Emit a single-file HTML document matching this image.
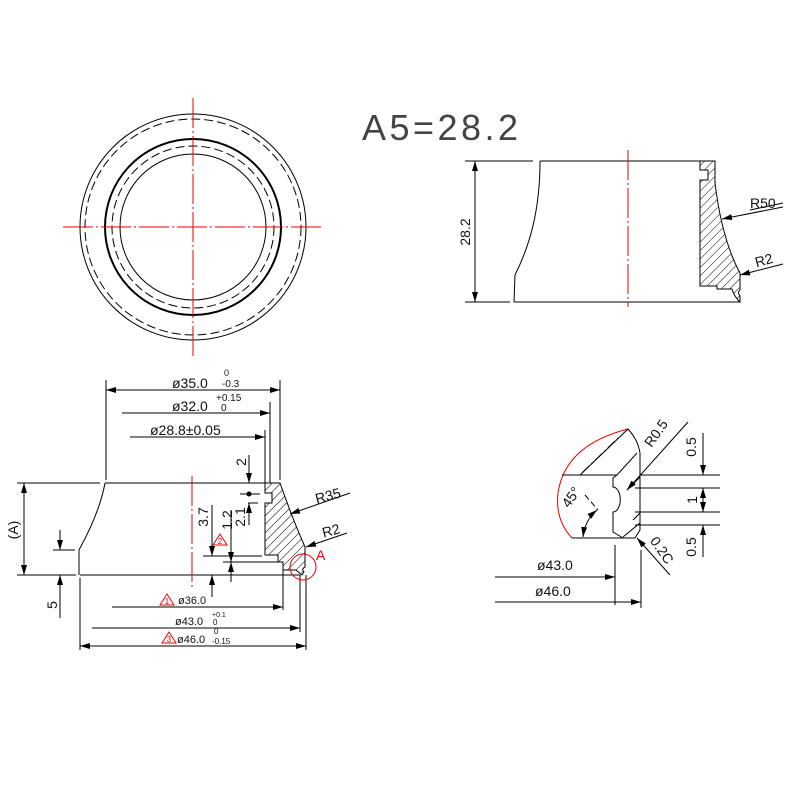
<!DOCTYPE html>
<html><head><meta charset="utf-8"><style>
html,body{margin:0;padding:0;background:#fff}
svg{display:block}
text{font-family:"Liberation Sans",sans-serif;fill:#111}
</style></head><body>
<svg width="800" height="800" viewBox="0 0 800 800" xmlns="http://www.w3.org/2000/svg">
<defs>
<marker id="ar" viewBox="0 0 10 6" refX="10" refY="3" markerWidth="10" markerHeight="6" orient="auto-start-reverse" markerUnits="userSpaceOnUse"><path d="M0,0 L10,3 L0,6 z" fill="#000"/></marker>
<pattern id="h" width="6" height="6" patternUnits="userSpaceOnUse" patternTransform="rotate(45)"><line x1="0" y1="0" x2="0" y2="6" stroke="#000" stroke-width="1"/></pattern>
</defs>
<g fill="none" stroke="#000" stroke-width="1">
<circle cx="193" cy="227" r="113"/>
<circle cx="193" cy="227" r="108" stroke-dasharray="9,4"/>
<circle cx="193" cy="227" r="88" stroke-width="2"/>
<circle cx="193" cy="227" r="81" stroke-dasharray="9,4"/>
<circle cx="193" cy="227" r="73"/>
</g>
<g stroke="#e00" stroke-width="1" stroke-dasharray="30,3,2,3">
<line x1="193" y1="98" x2="193" y2="358"/>
<line x1="63" y1="227" x2="323" y2="227"/>
</g>
<text x="362" y="140" font-size="36" textLength="156" fill="#444" style="fill:#444">A5=28.2</text>

<g fill="none" stroke="#000" stroke-width="1">
<line x1="465" y1="161" x2="533" y2="161"/>
<line x1="540" y1="161" x2="715" y2="161"/>
<line x1="465" y1="302" x2="510" y2="302"/>
<line x1="514" y1="302" x2="740" y2="302"/>
<path d="M540,161 C540,210 530,245 515,275 L514,302"/>
<line x1="475" y1="161" x2="475" y2="302" marker-start="url(#ar)" marker-end="url(#ar)"/>
<path d="M700,161 L715,161 L715,183 Q722,240 740,273 L740,290 Q737,292 740,296 L740,302 L738,300 L735,296 L733,292 L732,289 L717,289 L717,286 L700,286 L700,180 L708,180 L708,170 L700,170 Z" fill="url(#h)"/>
<line x1="750" y1="210" x2="783" y2="203"/>
<line x1="783" y1="207" x2="722" y2="219" marker-end="url(#ar)"/>
<line x1="783" y1="264" x2="740" y2="275" marker-end="url(#ar)"/>
</g>
<line x1="628" y1="150" x2="628" y2="307" stroke="#e00" stroke-dasharray="30,3,2,3"/>
<text font-size="14" transform="translate(470,232) rotate(-90)" text-anchor="middle">28.2</text>
<text x="750" y="208" font-size="14">R50</text>
<text x="755" y="264" font-size="14" transform="rotate(-15 768 260)">R2</text>

<g fill="none" stroke="#000" stroke-width="1">
<line x1="17" y1="483" x2="100" y2="483"/>
<line x1="105" y1="483" x2="280" y2="483"/>
<line x1="17" y1="575" x2="76" y2="575"/>
<line x1="80" y1="575" x2="300" y2="575"/>
<path d="M105,483 C101,505 90,530 79,550 L79,575"/>
<line x1="24" y1="483" x2="24" y2="575" marker-start="url(#ar)" marker-end="url(#ar)"/>
<line x1="53" y1="550" x2="75" y2="550"/>
<line x1="60" y1="530" x2="60" y2="550" marker-end="url(#ar)"/>
<line x1="60" y1="618" x2="60" y2="575" marker-end="url(#ar)"/>
<path d="M265,483 L280,483 Q293,520 305,547 L305,567 Q301,569 304,572 L302,575 L296,570 L283,570 L283,562 L278,562 L278,555 L265,555 L265,503 L272,503 L272,493 L265,493 Z" fill="url(#h)"/>
<line x1="106" y1="380" x2="106" y2="480"/>
<line x1="280" y1="380" x2="280" y2="480"/>
<line x1="106" y1="390" x2="280" y2="390" marker-start="url(#ar)" marker-end="url(#ar)"/>
<line x1="270" y1="402" x2="270" y2="483"/>
<line x1="122" y1="413" x2="270" y2="413" marker-end="url(#ar)"/>
<line x1="265" y1="430" x2="265" y2="483"/>
<line x1="130" y1="437" x2="265" y2="437" marker-end="url(#ar)"/>
<line x1="249" y1="455" x2="249" y2="483" marker-end="url(#ar)"/>
<line x1="240" y1="494" x2="260" y2="494"/>
<line x1="248" y1="503" x2="258" y2="503"/>
<line x1="249" y1="525" x2="249" y2="503" marker-end="url(#ar)"/>
<line x1="203" y1="556" x2="262" y2="556"/>
<line x1="212" y1="505" x2="212" y2="556" marker-end="url(#ar)"/>
<line x1="212" y1="597" x2="212" y2="575" marker-end="url(#ar)"/>
<line x1="223" y1="562" x2="278" y2="562"/>
<line x1="231" y1="510" x2="231" y2="562" marker-end="url(#ar)"/>
<line x1="231" y1="582" x2="231" y2="562" marker-end="url(#ar)"/>
<line x1="283" y1="562" x2="283" y2="610"/>
<line x1="112" y1="607" x2="283" y2="607" marker-end="url(#ar)"/>
<line x1="300" y1="575" x2="300" y2="632"/>
<line x1="92" y1="628" x2="300" y2="628" marker-end="url(#ar)"/>
<line x1="80" y1="578" x2="80" y2="650"/>
<line x1="306" y1="575" x2="306" y2="650"/>
<line x1="80" y1="646" x2="306" y2="646" marker-start="url(#ar)" marker-end="url(#ar)"/>
<line x1="350" y1="493" x2="290" y2="514" marker-end="url(#ar)"/>
<line x1="347" y1="533" x2="306" y2="547" marker-end="url(#ar)"/>
</g>
<circle cx="303" cy="567" r="13" fill="none" stroke="#e00"/>
<line x1="192" y1="476" x2="192" y2="587" stroke="#e00" stroke-dasharray="30,3,2,3"/>
<circle cx="249" cy="494" r="2.5" fill="#000"/>
<g font-size="14">
<text x="172" y="388">ø35.0</text><text x="224" y="376" font-size="9">0</text><text x="222" y="387" font-size="10">-0.3</text>
<text x="172" y="411">ø32.0</text><text x="216" y="401" font-size="10">+0.15</text><text x="221" y="411" font-size="10">0</text>
<text x="150" y="435">ø28.8±0.05</text>
<text transform="translate(246,462) rotate(-90)" text-anchor="middle">2</text>
<text transform="translate(208,517) rotate(-90)" text-anchor="middle">3.7</text>
<text transform="translate(245,517) rotate(-90)" text-anchor="middle">2.1</text>
<text transform="translate(232,520) rotate(-90)" text-anchor="middle">1.2</text>
<text transform="translate(18,530) rotate(-90)" text-anchor="middle">(A)</text>
<text transform="translate(57,605) rotate(-90)" text-anchor="middle">5</text>
<text x="315" y="500" transform="rotate(-15 330 495)">R35</text>
<text x="322" y="535" transform="rotate(-15 333 530)">R2</text>
<text x="316" y="560" style="fill:#e00">A</text>
<text x="178" y="604" font-size="11">ø36.0</text>
<text x="175" y="625" font-size="11">ø43.0</text><text x="212" y="617" font-size="7">+0.1</text><text x="213" y="625" font-size="8">0</text>
<text x="177" y="643" font-size="11">ø46.0</text><text x="214" y="634" font-size="8">0</text><text x="212" y="644" font-size="8">-0.15</text>
</g>
<g fill="none" stroke="#e00" stroke-width="1">
<path d="M160,605 L167,594 L174,605 Z"/>
<path d="M213,545 L220,534 L227,545 Z"/>
<path d="M162,643 L169,632 L176,643 Z"/>
</g>
<g font-size="8" text-anchor="middle">
<text x="167" y="604" style="fill:#e00">1</text>
<text x="220" y="544" style="fill:#e00">2</text>
<text x="169" y="642" style="fill:#e00">3</text>
</g>

<path d="M628,429 Q565,445 558,493 Q555,520 572,538" fill="none" stroke="#e00"/>
<g fill="none" stroke="#000" stroke-width="1">
<path d="M562,475 L617,475"/>
<path d="M580,475 L628,429 Q638,440 640,453 L640,530 L635,538 L572,538"/>
<path d="M617,475 L613,478 L613,487 A7,12 0 0 1 613,512 L613,532 L623,538"/>
<line x1="617" y1="475" x2="637" y2="453"/>
<line x1="582" y1="473" x2="618" y2="438" stroke-dasharray="10,3,2,3"/>
<line x1="627" y1="490" x2="640" y2="477"/>
<line x1="633" y1="520" x2="640" y2="513"/>
<line x1="623" y1="537" x2="640" y2="523"/>
<line x1="640" y1="475" x2="720" y2="475"/>
<line x1="635" y1="488" x2="720" y2="488"/>
<line x1="635" y1="512" x2="720" y2="512"/>
<line x1="635" y1="525" x2="720" y2="525"/>
<line x1="703" y1="433" x2="703" y2="475" marker-end="url(#ar)"/>
<line x1="703" y1="488" x2="703" y2="512" marker-start="url(#ar)" marker-end="url(#ar)"/>
<line x1="703" y1="557" x2="703" y2="525" marker-end="url(#ar)"/>
<line x1="688" y1="422" x2="627" y2="490" marker-end="url(#ar)"/>
<line x1="670" y1="575" x2="637" y2="538" marker-end="url(#ar)"/>
<line x1="585" y1="495" x2="598" y2="510" stroke-dasharray="6,3"/>
<path d="M597,510 Q585,520 583,537" marker-start="url(#ar)" marker-end="url(#ar)"/>
<line x1="615" y1="545" x2="615" y2="605"/>
<line x1="495" y1="577" x2="615" y2="577" marker-end="url(#ar)"/>
<line x1="641" y1="550" x2="641" y2="608"/>
<line x1="495" y1="602" x2="641" y2="602" marker-end="url(#ar)"/>
</g>
<g font-size="14">
<text transform="translate(696,447) rotate(-90)" text-anchor="middle">0.5</text>
<text transform="translate(697,500) rotate(-90)" text-anchor="middle">1</text>
<text transform="translate(696,547) rotate(-90)" text-anchor="middle">0.5</text>
<text transform="translate(660,436) rotate(-55)" text-anchor="middle">R0.5</text>
<text transform="translate(658,553) rotate(55)" text-anchor="middle">0.2C</text>
<text transform="translate(575,500) rotate(-55)" text-anchor="middle">45°</text>
<text x="537" y="570">ø43.0</text>
<text x="535" y="596">ø46.0</text>
</g>
</svg>
</body></html>
